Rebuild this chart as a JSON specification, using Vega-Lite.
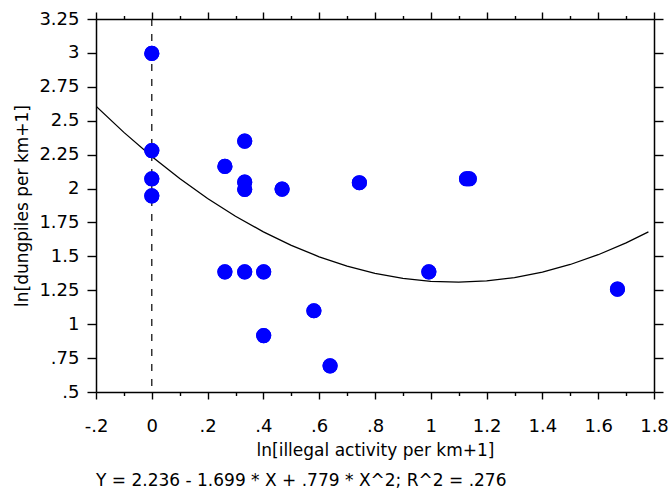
{
  "$schema": "https://vega.github.io/schema/vega-lite/v6.json",
  "autosize": {"type": "none"},
  "width": 558,
  "height": 373,
  "padding": {"left": 96, "top": 19, "right": 18, "bottom": 101},
  "background": "white",
  "config": {
    "view": {"stroke": null},
    "font": "DejaVu Sans",
    "axis": {
      "domainColor": "black",
      "domainWidth": 1.5,
      "tickColor": "black",
      "tickWidth": 1.4,
      "labelColor": "black",
      "labelFont": "DejaVu Sans",
      "labelFontSize": 18,
      "titleFont": "DejaVu Sans",
      "titleFontSize": 17,
      "titleFontWeight": "normal",
      "titleColor": "black",
      "grid": false,
      "labelOverlap": false,
      "labelBound": false,
      "labelFlush": false
    }
  },
  "title": {
    "text": "Y = 2.236 - 1.699 * X + .779 * X^2; R^2 = .276",
    "orient": "bottom",
    "anchor": "start",
    "frame": "group",
    "font": "DejaVu Sans",
    "fontSize": 17,
    "fontWeight": "normal",
    "color": "black",
    "offset": 15
  },
  "datasets": {
    "points": [
      {"x": 0, "y": 2.996},
      {"x": 0, "y": 2.28},
      {"x": 0, "y": 2.072},
      {"x": 0, "y": 1.946},
      {"x": 0.262, "y": 2.163},
      {"x": 0.333, "y": 2.35},
      {"x": 0.333, "y": 2.047},
      {"x": 0.333, "y": 1.994},
      {"x": 0.467, "y": 1.996},
      {"x": 0.744, "y": 2.043},
      {"x": 1.128, "y": 2.072},
      {"x": 1.138, "y": 2.072},
      {"x": 0.262, "y": 1.386},
      {"x": 0.333, "y": 1.386},
      {"x": 0.401, "y": 1.386},
      {"x": 0.581, "y": 1.099},
      {"x": 0.401, "y": 0.916},
      {"x": 0.639, "y": 0.693},
      {"x": 0.993, "y": 1.386},
      {"x": 1.669, "y": 1.258}
    ],
    "curve": [
      {"x": -0.2, "y": 2.607},
      {"x": -0.1, "y": 2.414},
      {"x": 0, "y": 2.236},
      {"x": 0.1, "y": 2.074},
      {"x": 0.2, "y": 1.927},
      {"x": 0.3, "y": 1.796},
      {"x": 0.4, "y": 1.681},
      {"x": 0.5, "y": 1.581},
      {"x": 0.6, "y": 1.497},
      {"x": 0.7, "y": 1.428},
      {"x": 0.8, "y": 1.375},
      {"x": 0.9, "y": 1.338},
      {"x": 1.0, "y": 1.316},
      {"x": 1.1, "y": 1.31},
      {"x": 1.2, "y": 1.319},
      {"x": 1.3, "y": 1.344},
      {"x": 1.4, "y": 1.384},
      {"x": 1.5, "y": 1.44},
      {"x": 1.6, "y": 1.512},
      {"x": 1.7, "y": 1.599},
      {"x": 1.78, "y": 1.68}
    ],
    "zero": [{"x": 0}]
  },
  "resolve": {"axis": {"x": "independent", "y": "independent"}},
  "layer": [
    {
      "data": {"name": "curve"},
      "mark": {"type": "line", "color": "black", "strokeWidth": 1.3, "clip": true},
      "encoding": {
        "x": {
          "field": "x", "type": "quantitative",
          "scale": {"domain": [-0.2, 1.8], "nice": false, "zero": false},
          "axis": {
            "orient": "top",
            "title": null,
            "labels": false,
            "values": [-0.2, 0, 0.2, 0.4, 0.6, 0.8, 1, 1.2, 1.4, 1.6, 1.8],
            "tickSize": 7
          }
        },
        "y": {
          "field": "y", "type": "quantitative",
          "scale": {"domain": [0.5, 3.25], "nice": false, "zero": false},
          "axis": {
            "orient": "right",
            "title": null,
            "labels": false,
            "values": [0.5, 0.75, 1, 1.25, 1.5, 1.75, 2, 2.25, 2.5, 2.75, 3, 3.25],
            "tickSize": 9
          }
        }
      }
    },
    {
      "data": {"name": "zero"},
      "mark": {"type": "rule", "color": "black", "strokeWidth": 1.2, "strokeDash": [7, 8]},
      "encoding": {
        "x": {
          "field": "x", "type": "quantitative",
          "axis": {
            "orient": "top",
            "title": null,
            "labels": false,
            "domain": false,
            "values": [-0.1, 0.1, 0.3, 0.5, 0.7, 0.9, 1.1, 1.3, 1.5, 1.7],
            "tickSize": 3.5
          }
        }
      }
    },
    {
      "data": {"name": "points"},
      "mark": {"type": "circle", "color": "#0000ff", "opacity": 1, "size": 230},
      "encoding": {
        "x": {
          "field": "x", "type": "quantitative",
          "axis": {
            "orient": "bottom",
            "title": null,
            "labels": false,
            "domain": false,
            "values": [-0.1, 0.1, 0.3, 0.5, 0.7, 0.9, 1.1, 1.3, 1.5, 1.7],
            "tickSize": 3.5
          }
        },
        "y": {"field": "y", "type": "quantitative", "axis": null}
      }
    },
    {
      "data": {"name": "points"},
      "mark": {"type": "circle", "color": "#0000ff", "opacity": 1, "size": 230},
      "encoding": {
        "x": {
          "field": "x", "type": "quantitative",
          "axis": {
            "orient": "bottom",
            "title": "ln[illegal activity per km+1]",
            "titlePadding": 7,
            "values": [-0.2, 0, 0.2, 0.4, 0.6, 0.8, 1, 1.2, 1.4, 1.6, 1.8],
            "tickSize": 7,
            "labelPadding": 18,
            "labelExpr": "datum.value == 0 ? '0' : (abs(datum.value) < 1 ? (datum.value < 0 ? '-' : '') + slice(format(abs(datum.value), '~g'), 1) : format(datum.value, '~g'))"
          }
        },
        "y": {
          "field": "y", "type": "quantitative",
          "axis": {
            "orient": "left",
            "title": "ln[dungpiles per km+1]",
            "titlePadding": 7,
            "values": [0.5, 0.75, 1, 1.25, 1.5, 1.75, 2, 2.25, 2.5, 2.75, 3, 3.25],
            "tickSize": 9,
            "labelPadding": 8,
            "labelExpr": "datum.value < 1 ? slice(format(datum.value, '~g'), 1) : format(datum.value, '~g')"
          }
        }
      }
    }
  ]
}
